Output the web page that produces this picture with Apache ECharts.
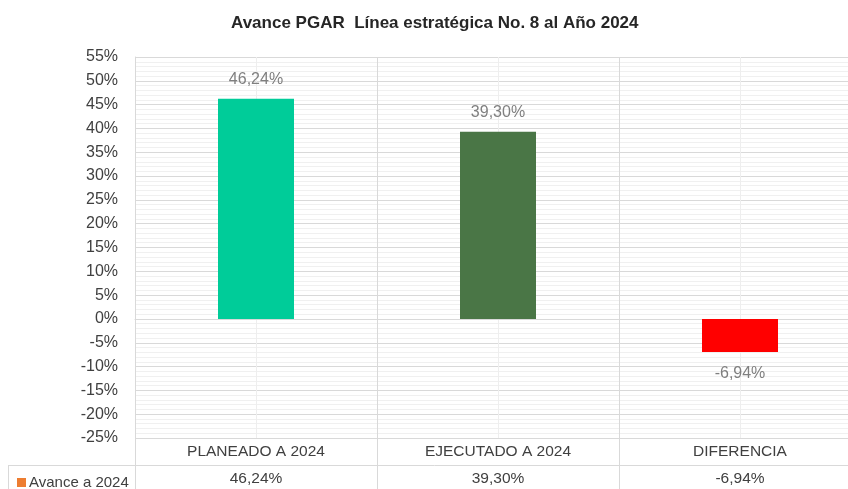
<!DOCTYPE html>
<html>
<head>
<meta charset="utf-8">
<script src="https://cdn.jsdelivr.net/npm/echarts@6/dist/echarts.min.js"></script>
<style>html,body{margin:0;padding:0;background:#fff;overflow:hidden;width:848px;height:489px;}#c{width:861px;height:489px;}</style>
</head>
<body>
<div id="c"></div>
<script>
const titleText = 'Avance PGAR  Línea estratégica No. 8 al Año 2024';
const categories = ['PLANEADO A 2024', 'EJECUTADO A 2024', 'DIFERENCIA'];
const seriesName = 'Avance a 2024';
const values = [46.24, 39.30, -6.94];
const barColors = ['#00CC99', '#4A7646', '#FF0000'];
const yTicks = { min: -25, max: 55, step: 5 };

const fmt = v => v.toFixed(2).replace('.', ',') + '%';
const FONT = 'Liberation Sans, Arial, sans-serif';

const chart = echarts.init(document.getElementById('c'), null, { renderer: 'canvas' });
const option = {
  backgroundColor: '#ffffff',
  animation: false,
  title: {
    text: titleText,
    left: 226,
    top: 10,
    textStyle: { fontFamily: FONT, fontSize: 17, fontWeight: 'bold', color: '#262626' }
  },
  legend: {
    data: [seriesName],
    left: 12,
    top: 470,
    icon: 'rect',
    itemWidth: 9,
    itemHeight: 9,
    itemGap: 4,
    textStyle: { fontFamily: FONT, fontSize: 15, color: '#404040', padding: [0, 0, 0, -2] }
  },
  grid: { left: 135, right: 0, top: 57, bottom: 51, containLabel: false, outerBoundsMode: 'none' },
  xAxis: [
    {
      type: 'category',
      data: categories,
      position: 'bottom',
      axisLine: { show: true, lineStyle: { color: '#d9d9d9', width: 1 } },
      axisTick: { show: false },
      axisLabel: { fontFamily: FONT, fontSize: 15.5, color: '#404040', margin: 6 },
      splitLine: { show: false }
    },
    {
      type: 'value',
      min: 0, max: categories.length, interval: 1,
      show: true,
      position: 'top',
      axisLine: { show: false },
      axisTick: { show: false },
      axisLabel: { show: false },
      splitLine: { show: true, lineStyle: { color: '#d9d9d9', width: 1 } },
      minorTick: { show: false, splitNumber: 2 },
      minorSplitLine: { show: true, lineStyle: { color: '#eeeeee', width: 1 } }
    },
    {
      type: 'category',
      data: values.map(fmt),
      position: 'bottom',
      offset: 27,
      axisLine: { show: false },
      axisTick: { show: false },
      axisLabel: { fontFamily: FONT, fontSize: 15.5, color: '#404040', margin: 6 },
      splitLine: { show: false }
    }
  ],
  yAxis: {
    type: 'value',
    min: yTicks.min,
    max: yTicks.max,
    interval: yTicks.step,
    axisLine: { show: true, lineStyle: { color: '#d9d9d9' } },
    axisTick: { show: false },
    axisLabel: { fontFamily: FONT, fontSize: 16, color: '#404040', margin: 17, formatter: v => v + '%' },
    splitLine: { show: true, lineStyle: { color: '#d9d9d9', width: 1 } },
    minorTick: { show: false, splitNumber: 5 },
    minorSplitLine: { show: true, lineStyle: { color: '#f0f0f0', width: 1 } }
  },
  series: [{
    name: seriesName,
    type: 'bar',
    xAxisIndex: 0,
    barWidth: 76,
    itemStyle: { color: '#ED7D31' },
    data: values.map((v, i) => ({
      value: v,
      itemStyle: { color: barColors[i] },
      label: v >= 0 ? { position: 'top', distance: 11 } : { position: 'bottom', distance: 14 }
    })),
    label: {
      show: true,
      distance: 11,
      fontFamily: FONT,
      fontSize: 16,
      color: '#7F7F7F',
      formatter: p => fmt(p.value)
    }
  }]
};
chart.setOption(option);

// table borders (layout only), positioned from the chart's own scales
const yBottom = Math.round(chart.convertToPixel({ yAxisIndex: 0 }, yTicks.min));
const rowY = yBottom + 27 + 0.5;
const gridLines = [
  { type: 'line', shape: { x1: 8, y1: rowY, x2: 861, y2: rowY }, style: { stroke: '#d9d9d9', lineWidth: 1 }, silent: true },
  { type: 'line', shape: { x1: 8.5, y1: rowY, x2: 8.5, y2: 489 }, style: { stroke: '#d9d9d9', lineWidth: 1 }, silent: true }
];
for (let i = 0; i < categories.length; i++) {
  const x = Math.round(chart.convertToPixel({ xAxisIndex: 1 }, i)) + 0.5;
  gridLines.push({ type: 'line', shape: { x1: x, y1: yBottom, x2: x, y2: 489 }, style: { stroke: '#d9d9d9', lineWidth: 1 }, silent: true });
}
chart.setOption({ graphic: gridLines });
</script>
</body>
</html>
